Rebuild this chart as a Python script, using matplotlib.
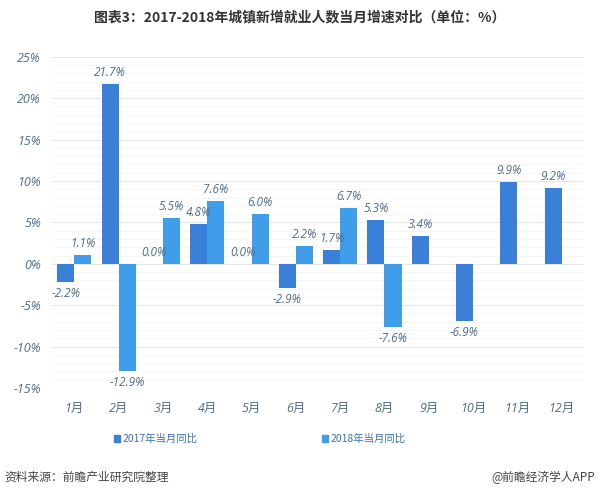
import matplotlib.pyplot as plt
from matplotlib.patches import Patch
from matplotlib import ticker
import numpy as np

plt.rcParams['font.family'] = ['Noto Sans CJK SC', 'DejaVu Sans']

months = ['1月', '2月', '3月', '4月', '5月', '6月', '7月', '8月', '9月', '10月', '11月', '12月']
y2017 = [-2.2, 21.7, 0.0, 4.8, 0.0, -2.9, 1.7, 5.3, 3.4, -6.9, 9.9, 9.2]
y2018 = [1.1, -12.9, 5.5, 7.6, 6.0, 2.2, 6.7, -7.6, None, None, None, None]
yticks = [-15, -10, -5, 0, 5, 10, 15, 20, 25]

c2017 = '#3a7fd8'
c2018 = '#3f9de9'
txt_c = '#506c8a'
lat = ['Open Sans', 'Noto Sans CJK SC', 'DejaVu Sans']

fig = plt.figure(figsize=(6, 4.94), dpi=100)
ax = fig.add_axes([0.087, 0.2146, 0.886, 0.6704])

x = np.arange(len(months))
w = 0.385

for i, v in enumerate(y2017):
    ax.bar(x[i] - w / 2, v, w, color=c2017, zorder=3)
    off = 0.6 if v >= 0 else -0.6
    ax.text(x[i] - w / 2, v + off, f'{v:.1f}%', ha='center',
            va='bottom' if v >= 0 else 'top', fontsize=8.5, color=txt_c,
            style='italic', family=lat, zorder=4)
for i, v in enumerate(y2018):
    if v is None:
        continue
    ax.bar(x[i] + w / 2, v, w, color=c2018, zorder=3)
    off = 0.6 if v >= 0 else -0.6
    ax.text(x[i] + w / 2, v + off, f'{v:.1f}%', ha='center',
            va='bottom' if v >= 0 else 'top', fontsize=8.5, color=txt_c,
            style='italic', family=lat, zorder=4)

ax.set_xlim(-0.5, 11.5)
ax.set_ylim(-15, 25)
ax.set_yticks(yticks)
ax.set_yticklabels([f'{t}%' for t in yticks])
ax.yaxis.set_minor_locator(ticker.MultipleLocator(1))
ax.grid(axis='y', which='major', color='#e6e6e6', lw=0.8, zorder=0)
ax.grid(axis='y', which='minor', color='#f4f4f4', lw=0.6, zorder=0)
ax.set_xticks(x)
ax.set_xticklabels(months)
for s in ax.spines.values():
    s.set_visible(False)
ax.tick_params(axis='both', which='both', length=0, colors=txt_c, labelsize=9)
ax.tick_params(axis='x', pad=10)
ax.tick_params(axis='y', pad=8)
for lab in ax.get_yticklabels() + ax.get_xticklabels():
    lab.set_style('italic')
    lab.set_family(lat)

handles = [Patch(color=c2017, label='2017年当月同比'), Patch(color=c2018, label='2018年当月同比')]
leg = fig.legend(handles=handles, loc='center', bbox_to_anchor=(0.433, 0.111), ncol=2,
                 frameon=False, fontsize=7.5, handlelength=0.6, handleheight=0.6,
                 handletextpad=0.2, columnspacing=12, labelcolor='#3a72b8')

fig.text(0.5, 0.965, '图表3：2017-2018年城镇新增就业人数当月增速对比（单位：%）',
         ha='center', va='center', fontsize=10, fontweight='bold', color='#333333')
fig.text(0.008, 0.034, '资料来源：前瞻产业研究院整理', ha='left', va='center',
         fontsize=8.5, color='#444444', style='italic')
fig.text(0.992, 0.034, '@前瞻经济学人APP', ha='right', va='center',
         fontsize=8.5, color='#444444')

fig.savefig('out.png', dpi=100, facecolor='white')
